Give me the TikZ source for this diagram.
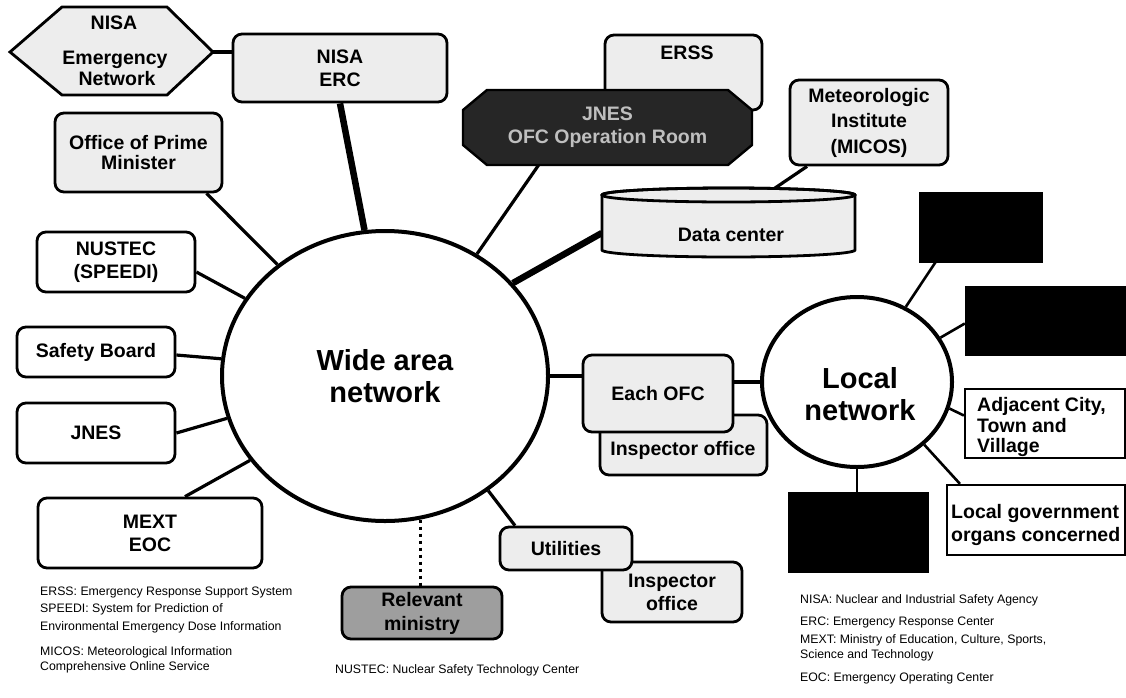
\documentclass[tikz,border=0pt]{standalone}
\usepackage{fontspec}
\setmainfont{Liberation Sans}
\usetikzlibrary{shapes.geometric,calc}
\pgfdeclarelayer{bg}
\pgfsetlayers{bg,main}
\definecolor{lt}{gray}{0.93}
\definecolor{mid}{gray}{0.62}
\definecolor{dk}{gray}{0.15}
\begin{document}
\begin{tikzpicture}[x=1pt,y=-1pt,
 rb/.style={draw, line width=2.8pt, rounded corners=9pt, fill=lt, align=center, inner sep=0pt, font=\bfseries\fontsize{19.5}{23}\selectfont},
 wb/.style={rb, fill=white},
 sq/.style={draw, line width=2.2pt, fill=white, inner sep=0pt},
 blk/.style={fill=black, draw=black, inner sep=0pt},
 bx/.style 2 args={minimum width=#1pt, minimum height=#2pt},
 ln/.style={line width=3.2pt},
 lnl/.style={line width=2.6pt},
 thk/.style={line width=6.5pt},
 lg/.style={anchor=west, inner sep=0pt, font=\fontsize{12.3}{15}\selectfont},
 txt/.style={inner sep=0pt, align=center, font=\bfseries\fontsize{19.5}{23}\selectfont},
 big/.style={inner sep=0pt, align=center, font=\bfseries\fontsize{29}{32}\selectfont}
]
\useasboundingbox (0,0) rectangle (1126,697);
\begin{pgfonlayer}{bg}
\fill[white] (0,0) rectangle (1126,697);
\end{pgfonlayer}

% NISA Emergency Network hexagon
\draw[line width=2.8pt, fill=lt] (10,52) -- (62,7) -- (167,7) -- (213,52) -- (167,95) -- (62,95) -- cycle;
\coordinate (hexR) at (213,52);
\node[txt] (hx1) at (114,23) {NISA};
\node[txt] (hx2) at (115,60) {Emergency};
\node[txt] (hx3) at (117,79) {Network};

% top boxes
\node[rb, bx={214}{68}] (erc) at (340,68) {NISA\\ERC};
\node[rb, bx={157}{75}] (erss) at (683.5,72.5) {};
\node[txt] (erssT) at (687,53) {ERSS};
\draw[line width=2.4pt, fill=dk] (487,90) -- (728,90) -- (752,110) -- (752,145) -- (728,165) -- (487,165) -- (463,145) -- (463,110) -- cycle;
\node[txt, text=gray!50, bx={289}{75}] (octa) at (607.5,127.5) {JNES\\OFC Operation Room};
\node[rb, bx={158}{85}, font=\bfseries\fontsize{19.5}{25.5}\selectfont] (mic) at (869,122.5) {Meteorologic\\Institute\\(MICOS)};

% data center cylinder
\draw[line width=2.8pt, fill=lt] (602,195) -- (602,250) arc[start angle=180, end angle=0, x radius=126.5, y radius=7] -- (855,195) arc[start angle=0, end angle=-180, x radius=126.5, y radius=7] -- cycle;
\draw[line width=2.8pt] (728.5,195) ellipse[x radius=126.5, y radius=7];
\node[bx={253}{62}, inner sep=0pt] (dc) at (728.5,224) {};
\node[txt] (dcT) at (731,235) {Data center};

% left boxes
\node[rb, bx={167}{79}, font=\bfseries\fontsize{19.5}{20}\selectfont] (opm) at (138.5,152.5) {Office of Prime\\Minister};
\node[wb, bx={158}{60}] (nus) at (116,262) {NUSTEC\\(SPEEDI)};
\node[wb, bx={158}{50}] (saf) at (96,352) {Safety Board};
\node[wb, bx={158}{60}] (jn) at (96,433) {JNES};
\node[wb, bx={224}{70}] (mext) at (150,533) {MEXT\\EOC};

% bottom middle
\node[rb, fill=mid, bx={160}{52}, font=\bfseries\fontsize{19.5}{24}\selectfont] (rel) at (422,613) {Relevant\\ministry};
\node[rb, bx={140}{60}] (insp2) at (672,592) {Inspector\\office};
\node[rb, bx={132}{43}] (util) at (566,548.5) {Utilities};
\node[rb, bx={167}{60}] (insp1) at (683.5,445) {};
\node[txt] (insp1T) at (683,450) {Inspector office};
\node[rb, bx={150}{77}] (ofc) at (658,393.5) {Each OFC};

% networks
\node[ellipse, draw, line width=4pt, fill=white, bx={326}{290}, inner sep=0pt, big] (wan) at (385,376) {Wide area\\network};
\node[ellipse, draw, line width=4pt, fill=white, bx={190}{170}, inner sep=0pt] (lan) at (857,382) {};
\node[big] (lanT) at (860,394) {Local\\network};

% right side
\node[blk, bx={123}{70}] (b1) at (980.5,227) {};
\node[blk, bx={161}{69}] (b2) at (1045.5,320.5) {};
\node[sq, bx={160}{69}] (adj) at (1045,423.5) {};
\node[anchor=west, align=left, inner sep=0pt, font=\bfseries\fontsize{19.5}{20.5}\selectfont] (adjT) at (977,427) {Adjacent City,\\Town and\\Village};
\node[sq, bx={178}{70}] (lg) at (1036,520) {};
\node[anchor=west, align=left, inner sep=0pt, font=\bfseries\fontsize{19.5}{23}\selectfont] (lgT) at (951,524.5) {Local government\\organs concerned};
\node[blk, bx={140}{80}] (b3) at (858,532) {};

% connectors
\begin{pgfonlayer}{bg}
\draw[ln] (hexR) -- (hexR -| erc.west);
\draw[thk] (erc.south) -- (wan.98.7);
\draw[ln] ([xshift=-69pt]octa.south) -- (wan.53.4);
\draw[thk] (wan.36.7) -- ([yshift=-9pt]dc.west);
\draw[ln] ([xshift=-62pt]mic.south) -- ([xshift=39.5pt]dc.north);
\draw[ln] ([xshift=68pt]opm.south) -- (wan.134);
\draw[ln] ([yshift=-10pt]nus.east) -- (wan.151);
\draw[ln] ([yshift=-3pt]saf.east) -- (wan.174);
\draw[ln] (jn.east) -- (wan.195);
\draw[ln] ([xshift=35pt]mext.north) -- (wan.212);
\draw[line width=3.2pt, dash pattern=on 3pt off 4pt] (wan.-76) -- (wan.-76 |- rel.north);
\draw[ln] (wan.-48.1) -- ([xshift=-51pt]util.north);
\draw[ln] (wan.east) -- (wan.east -| ofc.west);
\draw[ln] (ofc.east |- lan.west) -- (lan.west);
\draw[lnl] (lan.57) -- ([xshift=-45pt]b1.south);
\draw[lnl] (lan.28.5) -- ([yshift=-3pt]b2.west);
\draw[lnl] (lan.-16.8) -- ([yshift=8pt]adj.west);
\draw[lnl] (lan.-43.7) -- ([xshift=-76pt]lg.north);
\draw[lnl] (lan.south) -- (lan.south |- b3.north);
\end{pgfonlayer}

% legends
\node[lg] (l1) at (40,592) {ERSS: Emergency Response Support System};
\node[lg] (l2) at (40,609) {SPEEDI: System for Prediction of};
\node[lg] (l3) at (40,627) {Environmental Emergency Dose Information};
\node[lg] (l4) at (40,652) {MICOS: Meteorological Information};
\node[lg] (l5) at (40,667) {Comprehensive Online Service};
\node[lg] (l6) at (335,670) {NUSTEC: Nuclear Safety Technology Center};
\node[lg] (r1) at (800,600) {NISA: Nuclear and Industrial Safety Agency};
\node[lg] (r2) at (800,622) {ERC: Emergency Response Center};
\node[lg] (r3) at (800,640) {MEXT: Ministry of Education, Culture, Sports,};
\node[lg] (r4) at (800,655) {Science and Technology};
\node[lg] (r5) at (800,678) {EOC: Emergency Operating Center};
\end{tikzpicture}
\end{document}
